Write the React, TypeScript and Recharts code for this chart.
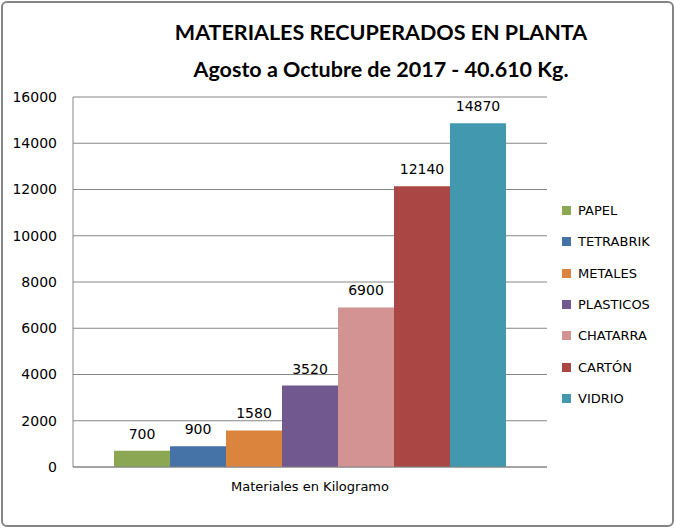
import { BarChart, Bar, XAxis, YAxis, CartesianGrid, LabelList, Legend } from "recharts";

const materials = ["PAPEL", "TETRABRIK", "METALES", "PLASTICOS", "CHATARRA", "CARTÓN", "VIDRIO"];
const kilos = [700, 900, 1580, 3520, 6900, 12140, 14870];
const colors = ["#8BA753", "#4572A7", "#DB843D", "#71588F", "#D39392", "#AA4643", "#4198AF"];
const yTicks = [0, 2000, 4000, 6000, 8000, 10000, 12000, 14000, 16000];
const categoryLabel = "Materiales en Kilogramo";
const titleLines = ["MATERIALES RECUPERADOS EN PLANTA", "Agosto a Octubre de 2017 - 40.610 Kg."];

// one category row, one key per material
const row: Record<string, string | number> = { name: categoryLabel };
materials.forEach((m, i) => {
  row[m] = kilos[i];
});
const data = [row];

const font = "'DejaVu Sans', sans-serif";

const renderLegend = (props: any) => {
  // keep series order, not alphabetical
  const payload = [...(props.payload || [])].sort(
    (a: any, b: any) => materials.indexOf(a.value) - materials.indexOf(b.value)
  );
  return (
    <div style={{ fontFamily: font, fontSize: 13, color: "#000" }}>
      {payload.map((entry: any) => (
        <div key={entry.value} style={{ display: "flex", alignItems: "center", height: 31.3 }}>
          <span style={{ width: 9, height: 9, background: entry.color, marginRight: 7, display: "inline-block" }} />
          <span>{entry.value}</span>
        </div>
      ))}
    </div>
  );
};

export default function App() {
  return (
    <div
      style={{
        position: "absolute",
        left: 0,
        top: 0,
        width: 675,
        height: 528,
        background: "#fff",
      }}
    >
      <div
        style={{
          position: "absolute",
          left: 1,
          top: 1,
          width: 673,
          height: 526,
          boxSizing: "border-box",
          border: "2px solid #858585",
          borderRadius: 6,
        }}
      />
      {titleLines.map((t, i) => (
        <div
          key={t}
          style={{
            position: "absolute",
            left: 81,
            width: 600,
            top: i === 0 ? 18 : 55,
            textAlign: "center",
            fontFamily: "Lato, sans-serif",
            fontWeight: 700,
            fontSize: 21.5,
            lineHeight: "28px",
            color: "#000",
          }}
        >
          {t}
        </div>
      ))}
      <BarChart
        width={675}
        height={528}
        data={data}
        margin={{ top: 97, right: 128, bottom: 31, left: 0 }}
        barCategoryGap={41}
        barGap={0}
        style={{ position: "absolute", left: 0, top: 0 }}
      >
        <CartesianGrid vertical={false} stroke="#868686" strokeWidth={1} />
        <XAxis
          dataKey="name"
          tick={false}
          tickLine={false}
          height={30}
          axisLine={{ stroke: "#868686" }}
          label={{
            value: categoryLabel,
            position: "insideTop",
            offset: 15,
            fontFamily: font,
            fontSize: 13,
            fill: "#000",
          }}
        />
        <YAxis
          width={73}
          domain={[0, 16000]}
          ticks={yTicks}
          interval={0}
          tickLine={false}
          tickSize={0}
          tickMargin={16}
          axisLine={{ stroke: "#868686" }}
          tick={{ fontFamily: font, fontSize: 14, fill: "#000" }}
        />
        <Legend
          layout="vertical"
          align="center"
          verticalAlign="middle"
          content={renderLegend}
          wrapperStyle={{ left: 562, top: 195, width: 110 }}
        />
        {materials.map((m, i) => (
          <Bar key={m} dataKey={m} name={m} fill={colors[i]} isAnimationActive={false}>
            <LabelList
              dataKey={m}
              position="top"
              offset={12}
              style={{ fontFamily: font, fontSize: 14, fill: "#000" }}
            />
          </Bar>
        ))}
      </BarChart>
    </div>
  );
}
